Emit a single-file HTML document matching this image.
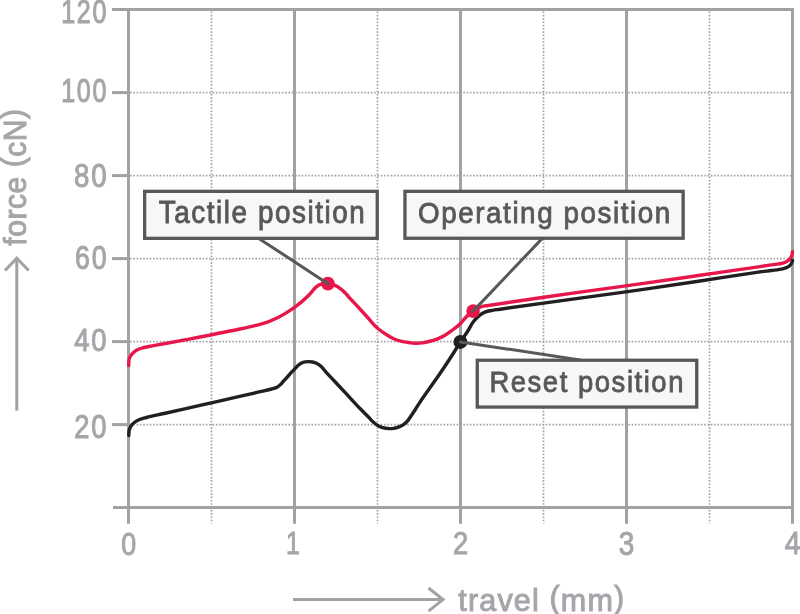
<!DOCTYPE html>
<html><head><meta charset="utf-8"><title>Force travel diagram</title>
<style>
html,body{margin:0;padding:0;background:#fff;overflow:hidden}
svg{display:block;will-change:transform}
.t{font-family:"Liberation Sans",sans-serif;font-size:32px;fill:#a5a6aa;stroke:#a5a6aa;stroke-width:1.0px}
.l{font-family:"Liberation Sans",sans-serif;font-size:32px;fill:#57585a;stroke:#57585a;stroke-width:0.9px}
</style></head><body>
<svg width="800" height="614" viewBox="0 0 800 614">
<line x1="130" y1="424.60" x2="791" y2="424.60" stroke="#a1a2a6" stroke-width="1.7" stroke-dasharray="1.6 1.7"/>
<line x1="130" y1="341.60" x2="791" y2="341.60" stroke="#a1a2a6" stroke-width="1.7" stroke-dasharray="1.6 1.7"/>
<line x1="130" y1="258.60" x2="791" y2="258.60" stroke="#a1a2a6" stroke-width="1.7" stroke-dasharray="1.6 1.7"/>
<line x1="130" y1="175.60" x2="791" y2="175.60" stroke="#a1a2a6" stroke-width="1.7" stroke-dasharray="1.6 1.7"/>
<line x1="130" y1="92.60" x2="791" y2="92.60" stroke="#a1a2a6" stroke-width="1.7" stroke-dasharray="1.6 1.7"/>
<line x1="211.50" y1="11.5" x2="211.50" y2="523.5" stroke="#a1a2a6" stroke-width="1.7" stroke-dasharray="1.6 1.7"/>
<line x1="377.50" y1="11.5" x2="377.50" y2="523.5" stroke="#a1a2a6" stroke-width="1.7" stroke-dasharray="1.6 1.7"/>
<line x1="543.50" y1="11.5" x2="543.50" y2="523.5" stroke="#a1a2a6" stroke-width="1.7" stroke-dasharray="1.6 1.7"/>
<line x1="709.50" y1="11.5" x2="709.50" y2="523.5" stroke="#a1a2a6" stroke-width="1.7" stroke-dasharray="1.6 1.7"/>
<line x1="128.50" y1="8.1" x2="128.50" y2="523.8" stroke="#a1a2a6" stroke-width="3"/>
<line x1="294.50" y1="8.1" x2="294.50" y2="523.8" stroke="#a1a2a6" stroke-width="3"/>
<line x1="460.50" y1="8.1" x2="460.50" y2="523.8" stroke="#a1a2a6" stroke-width="3"/>
<line x1="626.50" y1="8.1" x2="626.50" y2="523.8" stroke="#a1a2a6" stroke-width="3"/>
<line x1="792.50" y1="8.1" x2="792.50" y2="523.8" stroke="#a1a2a6" stroke-width="3"/>
<line x1="112" y1="424.60" x2="129" y2="424.60" stroke="#a1a2a6" stroke-width="3"/>
<line x1="112" y1="341.60" x2="129" y2="341.60" stroke="#a1a2a6" stroke-width="3"/>
<line x1="112" y1="258.60" x2="129" y2="258.60" stroke="#a1a2a6" stroke-width="3"/>
<line x1="112" y1="175.60" x2="129" y2="175.60" stroke="#a1a2a6" stroke-width="3"/>
<line x1="112" y1="92.60" x2="129" y2="92.60" stroke="#a1a2a6" stroke-width="3"/>
<line x1="112" y1="9.60" x2="794" y2="9.60" stroke="#a1a2a6" stroke-width="3"/>
<line x1="113" y1="507.60" x2="794" y2="507.60" stroke="#a1a2a6" stroke-width="3"/>
<line x1="293" y1="599.6" x2="442" y2="599.6" stroke="#a1a2a6" stroke-width="3"/>
<polyline points="428.5,588 443,599.6 428.5,611.2" fill="none" stroke="#a1a2a6" stroke-width="3"/>
<line x1="16.8" y1="410.6" x2="16.8" y2="259.5" stroke="#a1a2a6" stroke-width="3"/>
<polyline points="5,270.5 16.8,258.2 28.6,270.5" fill="none" stroke="#a1a2a6" stroke-width="3"/>
<path d="M128.75,365.50 C128.83,363.67 128.66,361.66 129.00,360.00 C129.30,358.53 129.81,357.19 130.50,356.00 C131.16,354.87 132.04,353.93 133.00,353.00 C134.02,352.01 135.17,351.02 136.50,350.25 C137.97,349.40 139.64,348.84 141.50,348.25 C143.72,347.55 146.06,347.11 149.00,346.50 C153.13,345.64 157.92,344.88 164.00,343.75 C173.42,342.00 187.69,339.38 200.00,337.00 C212.99,334.48 229.88,331.16 240.00,329.00 C246.21,327.67 250.87,326.62 255.00,325.60 C257.94,324.88 260.01,324.35 262.50,323.60 C265.01,322.85 267.52,322.06 270.00,321.10 C272.52,320.12 275.03,318.98 277.50,317.75 C280.03,316.49 282.39,315.19 285.00,313.60 C288.01,311.77 291.64,309.35 294.50,307.30 C296.98,305.53 298.98,304.00 301.25,302.10 C303.73,300.03 306.31,297.76 308.75,295.30 C311.32,292.71 313.97,288.80 316.25,286.90 C317.77,285.64 318.81,284.86 320.50,284.30 C322.56,283.61 325.47,283.41 327.90,283.60 C330.31,283.79 332.80,284.47 335.00,285.40 C337.16,286.31 339.13,287.68 341.00,289.10 C342.88,290.54 344.69,292.37 346.25,294.00 C347.65,295.47 348.49,296.71 350.00,298.40 C352.16,300.81 355.40,304.09 358.10,307.00 C360.84,309.95 363.59,312.96 366.30,316.00 C369.03,319.06 372.09,322.95 374.40,325.30 C375.94,326.87 376.86,327.69 378.50,329.00 C380.70,330.76 383.84,332.98 386.60,334.70 C389.28,336.37 392.01,338.04 394.80,339.20 C397.45,340.30 400.27,340.99 402.90,341.60 C405.33,342.16 407.84,342.51 410.00,342.80 C411.81,343.04 413.16,343.26 415.00,343.30 C417.25,343.35 420.01,343.24 422.50,342.90 C425.01,342.56 427.52,341.92 430.00,341.25 C432.52,340.57 435.03,339.83 437.50,338.85 C440.04,337.84 442.56,336.68 445.00,335.25 C447.56,333.75 450.30,331.60 452.50,330.00 C454.28,328.71 455.78,327.62 457.25,326.40 C458.60,325.28 459.79,324.26 461.00,323.00 C462.30,321.65 463.19,320.13 464.75,318.50 C466.91,316.25 470.12,313.03 473.00,311.00 C475.64,309.14 478.38,307.57 481.25,306.60 C484.05,305.66 485.55,305.88 490.00,305.20 C504.26,303.02 553.02,295.91 580.00,292.10 C602.01,288.99 620.00,286.70 640.00,283.90 C660.00,281.10 680.00,278.18 700.00,275.30 C720.00,272.42 747.86,268.39 760.00,266.60 C765.29,265.82 767.60,265.48 771.40,264.90 C775.20,264.32 779.90,263.95 782.80,263.10 C784.70,262.54 786.01,262.01 787.35,261.10 C788.67,260.20 789.98,258.93 790.80,257.70 C791.52,256.61 791.92,255.29 792.20,254.20 C792.43,253.31 792.40,252.53 792.50,251.70" fill="none" stroke="#e8174b" stroke-width="3.4" stroke-linejoin="round" stroke-linecap="round"/>
<path d="M128.75,435.50 C128.92,433.67 128.82,431.66 129.25,430.00 C129.63,428.53 130.21,427.21 131.00,426.00 C131.79,424.79 132.79,423.73 134.00,422.75 C135.39,421.62 137.11,420.59 139.00,419.75 C141.19,418.78 143.46,418.30 146.50,417.50 C151.10,416.29 157.12,415.06 164.00,413.50 C173.86,411.26 188.36,408.04 200.00,405.40 C210.98,402.91 221.25,400.55 232.00,398.10 C242.91,395.61 257.90,392.28 265.00,390.60 C268.39,389.80 270.44,389.32 272.50,388.75 C273.97,388.34 275.04,388.19 276.25,387.60 C277.55,386.97 278.81,386.04 280.00,385.00 C281.32,383.85 282.50,382.27 283.75,380.90 C285.00,379.52 286.25,378.13 287.50,376.75 C288.75,375.37 289.99,373.96 291.25,372.60 C292.49,371.25 293.68,369.93 295.00,368.60 C296.39,367.20 297.85,365.49 299.40,364.40 C300.79,363.42 302.26,362.67 303.75,362.20 C305.16,361.76 306.64,361.63 308.10,361.60 C309.56,361.57 311.05,361.69 312.50,362.00 C313.99,362.32 315.49,362.78 316.90,363.50 C318.41,364.28 319.87,365.35 321.25,366.60 C322.79,367.99 324.14,369.96 325.60,371.60 C327.05,373.23 328.09,374.34 330.00,376.40 C333.51,380.18 340.00,387.05 345.00,392.40 C350.00,397.75 355.83,404.18 360.00,408.50 C362.90,411.50 365.45,413.85 367.50,416.00 C368.98,417.55 369.97,418.83 371.25,420.10 C372.47,421.32 373.72,422.48 375.00,423.50 C376.22,424.47 377.46,425.41 378.75,426.10 C379.96,426.75 381.04,427.21 382.50,427.60 C384.40,428.11 387.22,428.50 389.25,428.60 C390.90,428.68 392.21,428.65 393.75,428.40 C395.45,428.12 397.35,427.55 399.00,426.90 C400.59,426.27 402.12,425.54 403.50,424.60 C404.87,423.66 406.07,422.57 407.25,421.25 C408.59,419.76 409.71,417.87 411.00,416.00 C412.45,413.90 414.01,411.54 415.50,409.25 C417.02,406.91 417.91,405.24 420.00,402.10 C424.24,395.71 434.68,381.29 440.00,373.50 C443.63,368.19 445.84,364.84 449.00,360.00 C452.62,354.45 457.12,347.18 460.50,342.00 C463.10,338.02 465.30,334.98 467.50,331.50 C469.62,328.15 471.33,324.33 473.50,321.50 C475.37,319.06 477.43,316.92 479.50,315.30 C481.28,313.91 482.96,312.92 485.00,312.10 C487.25,311.20 489.99,310.78 492.50,310.30 C494.99,309.82 496.17,309.75 500.00,309.20 C512.50,307.42 555.25,301.51 580.00,298.10 C601.43,295.15 620.01,292.75 640.00,289.90 C660.01,287.05 680.00,284.00 700.00,281.00 C720.00,278.00 747.85,273.57 760.00,271.90 C765.29,271.17 767.60,271.02 771.40,270.50 C775.20,269.98 779.88,269.48 782.80,268.80 C784.68,268.36 786.00,268.09 787.35,267.35 C788.66,266.64 789.95,265.60 790.80,264.50 C791.58,263.49 792.19,261.78 792.40,261.10 C792.49,260.83 792.47,260.70 792.50,260.50" fill="none" stroke="#231f20" stroke-width="3.4" stroke-linejoin="round" stroke-linecap="round"/>
<circle cx="327.9" cy="283.7" r="6.9" fill="#e8174b"/>
<circle cx="473.1" cy="311.1" r="6.8" fill="#e8174b"/>
<circle cx="460.4" cy="341.9" r="7.0" fill="#231f20"/>
<line x1="258.8" y1="238.4" x2="327.9" y2="283.7" stroke="#57585a" stroke-width="3" stroke-linecap="round"/>
<line x1="542.3" y1="238.4" x2="473.1" y2="311.1" stroke="#57585a" stroke-width="3" stroke-linecap="round"/>
<line x1="460.4" y1="341.9" x2="580" y2="360" stroke="#57585a" stroke-width="3" stroke-linecap="round"/>
<rect x="144.65" y="191.35" width="232.60" height="47.00" fill="#f7f7f7" stroke="#57585a" stroke-width="3.3"/>
<rect x="404.95" y="191.35" width="278.20" height="46.90" fill="#f7f7f7" stroke="#57585a" stroke-width="3.3"/>
<rect x="477.25" y="360.25" width="219.50" height="46.80" fill="#f7f7f7" stroke="#57585a" stroke-width="3.3"/>
<g transform="matrix(0.78519,0.00000,0.00000,1.00973,25.026,-0.542)"><text letter-spacing="2.2" x="106" y="23" text-anchor="end" class="t">120</text></g>
<g transform="matrix(0.78519,0.00000,0.00000,1.01622,25.026,-2.342)"><text letter-spacing="2.2" x="106" y="102.6" text-anchor="end" class="t">100</text></g>
<g transform="matrix(0.86454,0.00000,0.00000,1.02335,16.853,-4.635)"><text letter-spacing="2.2" x="106" y="187" text-anchor="end" class="t">80</text></g>
<g transform="matrix(0.83462,0.00000,0.00000,1.00965,19.934,-3.488)"><text letter-spacing="2.2" x="106" y="269.5" text-anchor="end" class="t">60</text></g>
<g transform="matrix(0.85872,0.00000,0.00000,1.00757,17.452,-3.331)"><text letter-spacing="2.2" x="106" y="351.6" text-anchor="end" class="t">40</text></g>
<g transform="matrix(0.85626,0.00000,0.00000,1.00999,17.706,-4.845)"><text letter-spacing="2.2" x="106" y="438" text-anchor="end" class="t">20</text></g>
<g transform="matrix(0.84056,0.00000,0.00000,0.98354,20.627,8.666)"><text x="128.5" y="555" text-anchor="middle" class="t">0</text></g>
<g transform="matrix(0.78000,0.00000,0.00000,0.98162,63.311,9.548)"><text x="294.5" y="555" text-anchor="middle" class="t">1</text></g>
<g transform="matrix(0.85607,0.00000,0.00000,0.99393,66.507,2.708)"><text x="460.5" y="555" text-anchor="middle" class="t">2</text></g>
<g transform="matrix(0.87361,0.00000,0.00000,1.01405,79.161,-8.002)"><text x="626.5" y="555" text-anchor="middle" class="t">3</text></g>
<g transform="matrix(0.88657,0.00000,0.00000,0.98595,90.002,7.145)"><text x="792.5" y="555" text-anchor="middle" class="t">4</text></g>
<g transform="matrix(0.95501,0.00000,0.00000,1.00000,20.917,1.600)"><text letter-spacing="1.2" x="458" y="609" class="t">travel <tspan dy="-2.6">(</tspan><tspan dy="2.6">mm</tspan><tspan dy="-2.6">)</tspan></text></g>
<g transform="matrix(1.00000,0.00000,0.00000,0.93795,0.000,15.158)"><text letter-spacing="0.6" transform="translate(26,245.8) rotate(-90)" class="t">force <tspan dy="-2.6">(</tspan><tspan dy="2.6">cN</tspan><tspan dy="-2.6">)</tspan></text></g>
<g transform="matrix(0.86986,0.00000,0.00000,0.95663,21.367,9.118)"><text letter-spacing="1.8" x="158" y="223.9" class="l">Tactile position</text></g>
<g transform="matrix(0.86935,0.00000,0.00000,0.94375,54.615,11.901)"><text letter-spacing="1.8" x="418" y="223.9" class="l">Operating position</text></g>
<g transform="matrix(0.85779,0.00000,0.00000,0.94697,68.262,20.118)"><text letter-spacing="1.8" x="491" y="392.6" class="l">Reset position</text></g>
</svg>
</body></html>
